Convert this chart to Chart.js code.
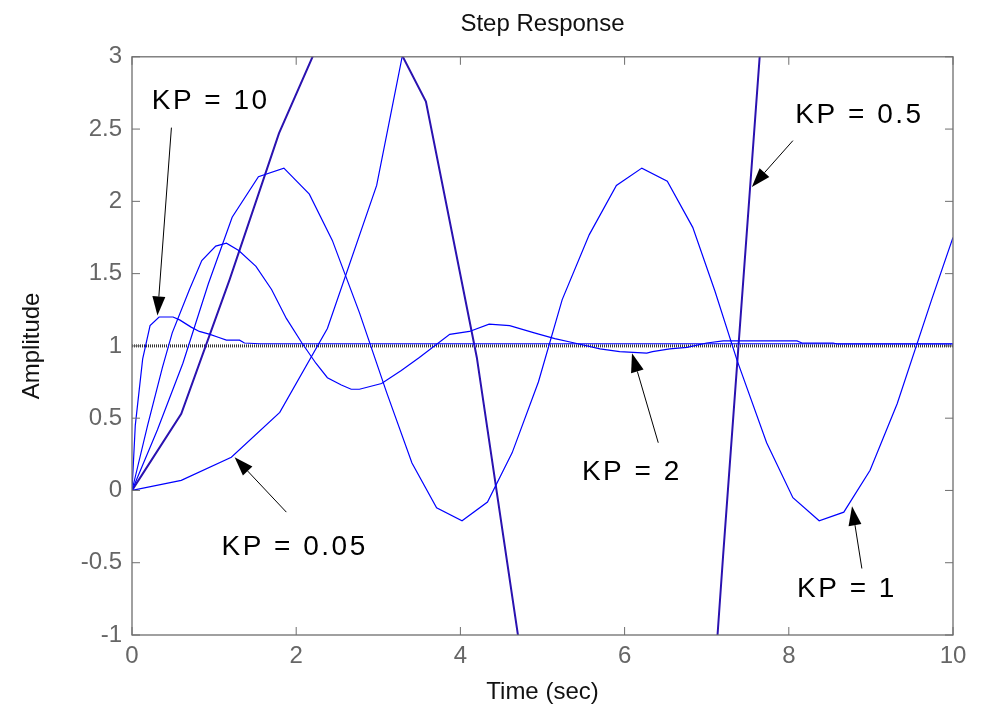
<!DOCTYPE html>
<html>
<head>
<meta charset="utf-8">
<title>Step Response</title>
<script src="https://cdn.jsdelivr.net/npm/chart.js@4.4.1/dist/chart.umd.min.js"></script>
<style>
  html, body { margin: 0; padding: 0; background: #fff; }
  #wrap { width: 984px; height: 717px; }
</style>
</head>
<body>
<div id="wrap"><canvas id="chart" width="984" height="717"></canvas></div>
<script>
// time (sec) and amplitude, one pair of arrays per gain
const kp10T = [0, 0.04, 0.13, 0.22, 0.33, 0.50, 0.58, 0.72, 0.82, 0.95, 1.05, 1.15, 1.31, 1.37, 1.55, 10];
const kp10Y = [0, 0.45, 0.91, 1.14, 1.20, 1.20, 1.18, 1.13, 1.10, 1.08, 1.06, 1.04, 1.04, 1.02, 1.015, 1.015];

const kp2T = [0, 0.19, 0.37, 0.49, 0.70, 0.85, 1.02, 1.15, 1.30, 1.51, 1.70, 1.88, 2.07, 2.24, 2.38, 2.55, 2.67,
  2.77, 3.04, 3.28, 3.50, 3.87, 4.11, 4.35, 4.60, 4.90, 5.15, 5.39, 5.70, 5.94, 6.27, 6.34, 6.55, 6.76, 7.00,
  7.20, 8.10, 8.16, 8.54, 8.59, 10];
const kp2Y = [0, 0.45, 0.85, 1.09, 1.39, 1.59, 1.69, 1.71, 1.66, 1.55, 1.39, 1.19, 1.02, 0.88, 0.78, 0.73, 0.70,
  0.70, 0.74, 0.83, 0.92, 1.08, 1.10, 1.15, 1.14, 1.09, 1.05, 1.02, 0.98, 0.96, 0.95, 0.96, 0.98, 0.99, 1.02,
  1.035, 1.035, 1.02, 1.02, 1.013, 1.013];

const kp1T = [0, 0.31, 0.62, 0.93, 1.22, 1.54, 1.85, 2.16, 2.44, 2.77, 3.10, 3.41, 3.71, 4.02, 4.33, 4.63,
  4.95, 5.24, 5.57, 5.90, 6.21, 6.52, 6.83, 7.10, 7.37, 7.73, 8.05, 8.37, 8.67, 8.99, 9.32, 9.74, 10];
const kp1Y = [0, 0.42, 0.88, 1.43, 1.89, 2.17, 2.23, 2.05, 1.73, 1.23, 0.68, 0.19, -0.12, -0.21, -0.08, 0.26,
  0.75, 1.32, 1.77, 2.11, 2.23, 2.14, 1.82, 1.38, 0.90, 0.33, -0.05, -0.21, -0.15, 0.14, 0.60, 1.32, 1.75];

const kp05T = [0, 0.60, 1.19, 1.79, 2.40, 3.00, 3.58, 4.20, 4.80, 5.40, 6.00, 6.60, 7.20, 7.80, 8.40, 9.00, 9.60, 10];
const kp05Y = [0, 0.53, 1.46, 2.47, 3.26, 3.33, 2.69, 0.92, -1.38, -3.6, -5.4, -5.3, -0.45, 4.2, 9.5, 12, 10, 7];

const kp005T = [0, 0.60, 1.21, 1.80, 2.38, 2.98, 3.58, 4.20];
const kp005Y = [0, 0.07, 0.23, 0.54, 1.12, 2.11, 3.83, 5.5];

const refT = [0, 10];
const refY = [1, 1];

const xTicks = [0, 2, 4, 6, 8, 10];
const yTicks = [-1, -0.5, 0, 0.5, 1, 1.5, 2, 2.5, 3];

const pts = (t, v) => t.map((x, i) => ({ x, y: v[i] }));

const BLUE = "#0000ff";

function line(label, t, v, color, width) {
  return {
    label,
    data: pts(t, v),
    borderColor: color,
    borderWidth: width,
    pointRadius: 0,
    tension: 0,
    fill: false,
    clip: 0,
  };
}

// text labels and arrows, placed in data units
const notes = [
  { text: "KP = 10",   x: 0.24, y: 2.64,  from: [0.48, 2.51],  to: [0.31, 1.21] },
  { text: "KP = 0.05", x: 1.09, y: -0.45, from: [1.88, -0.15], to: [1.25, 0.23] },
  { text: "KP = 2",    x: 5.48, y: 0.07,  from: [6.41, 0.33],  to: [6.09, 0.95] },
  { text: "KP = 0.5",  x: 8.08, y: 2.54,  from: [8.05, 2.42],  to: [7.55, 2.10] },
  { text: "KP = 1",    x: 8.10, y: -0.74, from: [8.89, -0.54], to: [8.77, -0.11] },
];

function arrow(ctx, x0, y0, x1, y1) {
  const ang = Math.atan2(y1 - y0, x1 - x0);
  const len = 19, hw = 6.5;
  const bx = x1 - len * Math.cos(ang);
  const by = y1 - len * Math.sin(ang);
  ctx.beginPath();
  ctx.moveTo(x0, y0);
  ctx.lineTo(bx, by);
  ctx.stroke();
  ctx.beginPath();
  ctx.moveTo(x1, y1);
  ctx.lineTo(bx - hw * Math.sin(ang), by + hw * Math.cos(ang));
  ctx.lineTo(bx + hw * Math.sin(ang), by - hw * Math.cos(ang));
  ctx.closePath();
  ctx.fill();
}

const frame = {
  id: "frame",
  afterDatasetsDraw(chart) {
    const { ctx, chartArea: a, scales: { x, y } } = chart;
    ctx.save();

    ctx.strokeStyle = "#6e6e6e";
    ctx.lineWidth = 1.3;
    ctx.strokeRect(a.left, a.top, a.right - a.left, a.bottom - a.top);

    ctx.beginPath();
    x.ticks.forEach((t) => {
      const px = x.getPixelForValue(t.value);
      ctx.moveTo(px, a.bottom); ctx.lineTo(px, a.bottom - 8);
      ctx.moveTo(px, a.top); ctx.lineTo(px, a.top + 8);
    });
    y.ticks.forEach((t) => {
      const py = y.getPixelForValue(t.value);
      ctx.moveTo(a.left, py); ctx.lineTo(a.left + 8, py);
      ctx.moveTo(a.right, py); ctx.lineTo(a.right - 8, py);
    });
    ctx.lineWidth = 1;
    ctx.stroke();

    ctx.fillStyle = "#000";
    ctx.strokeStyle = "#000";
    ctx.lineWidth = 1;
    ctx.font = "28px 'Liberation Sans', Arial, sans-serif";
    ctx.textAlign = "left";
    ctx.textBaseline = "alphabetic";
    if ("letterSpacing" in ctx) ctx.letterSpacing = "2.5px";
    notes.forEach((n) => {
      ctx.fillText(n.text, x.getPixelForValue(n.x), y.getPixelForValue(n.y));
      arrow(ctx,
        x.getPixelForValue(n.from[0]), y.getPixelForValue(n.from[1]),
        x.getPixelForValue(n.to[0]), y.getPixelForValue(n.to[1]));
    });
    ctx.restore();
  },
};

const font = { family: "'Liberation Sans', Arial, sans-serif", size: 24 };

new Chart(document.getElementById("chart").getContext("2d"), {
  type: "line",
  data: {
    datasets: [
      line("KP = 10", kp10T, kp10Y, BLUE, 1.2),
      line("KP = 2", kp2T, kp2Y, BLUE, 1.2),
      line("KP = 1", kp1T, kp1Y, BLUE, 1.2),
      line("KP = 0.5", kp05T, kp05Y, "#2a12b0", 2),
      line("KP = 0.05", kp005T, kp005Y, BLUE, 1.2),
      { ...line("final value", refT, refY, "#333", 3), borderDash: [1, 1] },
    ],
  },
  options: {
    responsive: false,
    animation: false,
    layout: { padding: { left: 0, right: 31, top: 0, bottom: 0 } },
    plugins: {
      legend: { display: false },
      tooltip: { enabled: false },
      title: {
        display: true,
        fullSize: false,
        text: "Step Response",
        color: "#111",
        font: { ...font, weight: "normal" },
        padding: { top: 10, bottom: 18 },
      },
    },
    scales: {
      x: {
        type: "linear",
        min: 0,
        max: 10,
        afterBuildTicks: (s) => { s.ticks = xTicks.map((value) => ({ value })); },
        afterFit: (s) => { s.height = 82; },
        grid: { display: false, drawTicks: false },
        border: { display: false },
        ticks: { color: "#666", font, padding: 7, maxRotation: 0, callback: (v) => String(v) },
        title: {
          display: true,
          text: "Time (sec)",
          color: "#111",
          font,
          padding: { top: 0, bottom: 10 },
        },
      },
      y: {
        type: "linear",
        min: -1,
        max: 3,
        afterBuildTicks: (s) => { s.ticks = yTicks.map((value) => ({ value })); },
        afterFit: (s) => { s.width = 132; },
        grid: { display: false, drawTicks: false },
        border: { display: false },
        ticks: { color: "#666", font, padding: 10, callback: (v) => String(v) },
        title: {
          display: true,
          text: "Amplitude",
          color: "#111",
          font,
          padding: { top: 18, bottom: 0 },
        },
      },
    },
  },
  plugins: [frame],
});
</script>
</body>
</html>
